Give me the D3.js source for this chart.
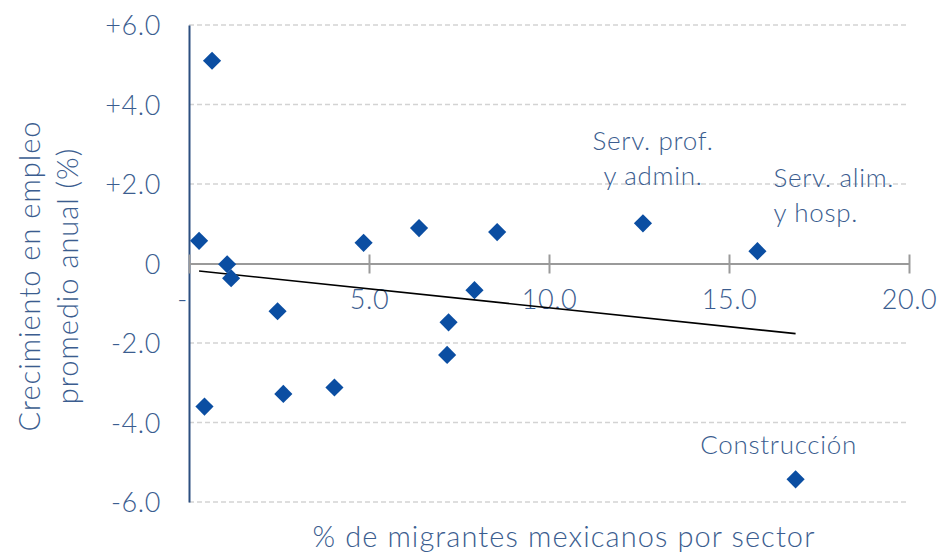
<!DOCTYPE html>
<html>
<head>
<meta charset="utf-8">
<script src="https://cdn.jsdelivr.net/npm/d3@7"></script>
<style>
  body { margin: 0; background: #fff; }
  text { font-family: Lato, 'Open Sans', sans-serif; font-weight: 300; fill: #3b5d8f; }
</style>
</head>
<body>
<svg id="chart" width="943" height="556"></svg>
<script>
// % of Mexican migrants per sector (x) vs avg annual employment growth (y)
const sharePct = [0.64, 0.28, 1.06, 1.17, 2.46, 4.85, 6.39, 8.56, 7.93, 7.21, 7.17, 0.43, 2.62, 4.04, 12.61, 15.79, 16.85];
const growthPct = [5.1, 0.57, -0.02, -0.37, -1.2, 0.52, 0.89, 0.79, -0.67, -1.48, -2.3, -3.6, -3.28, -3.12, 1.01, 0.31, -5.43];

const yTicks = [6, 4, 2, 0, -2, -4, -6];
const yTickLabels = ['+6.0', '+4.0', '+2.0', '0', '-2.0', '-4.0', '-6.0'];
const xTicks = [0, 5, 10, 15, 20];
const xTickLabels = ['-', '5.0', '10.0', '15.0', '20.0'];

const labels = [
  { idx: 14, lines: ['Serv. prof.', 'y admin.'] },
  { idx: 15, lines: ['Serv. alim.', 'y hosp.'] },
  { idx: 16, lines: ['Construcción'] }
];

const COLORS = {
  text: '#3b5d8f',
  point: '#0b4ea2',
  yAxis: '#2c4f80',
  xAxis: '#9a9a9a',
  grid: '#d3d3d3'
};

const M = { left: 189, right: 34, top: 25, bottom: 54 };
const W = 943, H = 556;

const svg = d3.select('#chart');

const x = d3.scaleLinear().domain([0, 20]).range([M.left, W - M.right]);
const y = d3.scaleLinear().domain([-6, 6]).range([H - M.bottom, M.top]);

// gridlines
svg.append('g')
  .selectAll('line')
  .data(yTicks.filter(d => d !== 0))
  .enter()
  .append('line')
  .attr('x1', x(0))
  .attr('x2', x(20))
  .attr('y1', d => y(d))
  .attr('y2', d => y(d))
  .attr('stroke', COLORS.grid)
  .attr('stroke-width', 1.3)
  .attr('stroke-dasharray', '5,3');

// y axis
const axisY = d3.axisLeft(y)
  .tickValues(yTicks)
  .tickSize(0)
  .tickPadding(28)
  .tickFormat((d, i) => yTickLabels[i]);

const gy = svg.append('g')
  .attr('transform', 'translate(' + x(0) + ',0)')
  .call(axisY);
gy.select('.domain').attr('stroke', COLORS.yAxis).attr('stroke-width', 2);
gy.selectAll('text')
  .style('font-size', '27px')
  .style('letter-spacing', '0.6px')
  .attr('dy', '0.36em')
  .attr('fill', COLORS.text);

// x axis through zero
const axisX = d3.axisBottom(x)
  .tickValues(xTicks)
  .tickSize(0)
  .tickFormat((d, i) => xTickLabels[i]);

const gx = svg.append('g')
  .attr('transform', 'translate(0,' + y(0) + ')')
  .call(axisX);
gx.select('.domain').attr('stroke', COLORS.xAxis).attr('stroke-width', 2);
gx.selectAll('.tick')
  .append('line')
  .attr('y1', -9)
  .attr('y2', 10)
  .attr('stroke', COLORS.xAxis)
  .attr('stroke-width', 2);
gx.selectAll('.tick text')
  .style('font-size', '27px')
  .style('letter-spacing', '0.6px')
  .attr('y', 36)
  .attr('dy', '0.36em')
  .attr('dx', (d, i) => i === 0 ? -7 : 0)
  .attr('fill', COLORS.text);

// trendline (least squares)
const mx = d3.mean(sharePct), my = d3.mean(growthPct);
let sxy = 0, sxx = 0;
sharePct.forEach((v, i) => {
  sxy += (v - mx) * (growthPct[i] - my);
  sxx += (v - mx) * (v - mx);
});
const slope = sxy / sxx;
const icpt = my - slope * mx;
const x0 = d3.min(sharePct), x1 = d3.max(sharePct);

svg.append('line')
  .attr('x1', x(x0))
  .attr('y1', y(icpt + slope * x0))
  .attr('x2', x(x1))
  .attr('y2', y(icpt + slope * x1))
  .attr('stroke', '#000')
  .attr('stroke-width', 1.6);

// points
svg.append('g')
  .selectAll('path')
  .data(sharePct.map((v, i) => [v, growthPct[i]]))
  .enter()
  .append('path')
  .attr('d', d3.symbol(d3.symbolDiamond2, 210))
  .attr('transform', d => 'translate(' + x(d[0]) + ',' + y(d[1]) + ')')
  .attr('fill', COLORS.point);

// point labels (first line centre offset from the point)
const labelPos = {
  14: { dx: 10, dy: -80, anchor: 'middle' },
  15: { dx: 16, dy: -71, anchor: 'start' },
  16: { dx: -17, dy: -32, anchor: 'middle' }
};
labels.forEach(l => {
  const p = labelPos[l.idx];
  const t = svg.append('text')
    .attr('x', x(sharePct[l.idx]) + p.dx)
    .attr('y', y(growthPct[l.idx]) + p.dy)
    .attr('text-anchor', p.anchor)
    .style('font-size', '26px')
    .style('letter-spacing', '0.7px');
  l.lines.forEach((s, i) => {
    t.append('tspan')
      .attr('x', x(sharePct[l.idx]) + p.dx)
      .attr('dy', i === 0 ? 0 : 35)
      .attr('dominant-baseline', 'middle')
      .text(s);
  });
});

// axis titles
svg.append('text')
  .attr('x', (x(0) + x(20)) / 2 + 15)
  .attr('y', 540)
  .attr('text-anchor', 'middle')
  .attr('dominant-baseline', 'middle')
  .style('font-size', '29px')
  .style('letter-spacing', '1.1px')
  .text('% de migrantes mexicanos por sector');

const yTitle = svg.append('text')
  .attr('transform', 'translate(50,276) rotate(-90)')
  .attr('text-anchor', 'middle')
  .style('font-size', '29px')
  .style('letter-spacing', '1px');
yTitle.append('tspan').attr('x', 0).attr('dy', '-0.35em').text('Crecimiento en empleo');
yTitle.append('tspan').attr('x', 0).attr('dy', '1.3em').text('promedio anual (%)');
</script>
</body>
</html>
